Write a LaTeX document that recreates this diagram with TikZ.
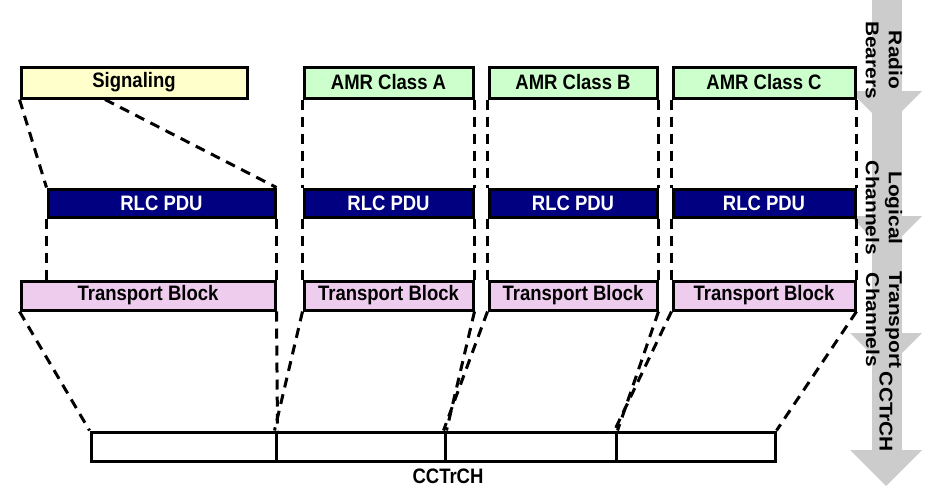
\documentclass[tikz,border=0pt]{standalone}
\usepackage{fontspec}
\setmainfont{Liberation Sans}
\usepackage{graphicx}
\usepackage{tikz}
\usetikzlibrary{shapes.geometric}

\definecolor{sigyellow}{RGB}{255,255,204}
\definecolor{amrgreen}{RGB}{204,255,204}
\definecolor{rlcblue}{RGB}{0,0,128}
\definecolor{tbpink}{RGB}{238,204,238}
\definecolor{bandgray}{RGB}{204,204,204}
\newcommand{\tallt}[1]{\scalebox{1}[1.13]{#1}}

\begin{document}
\begin{tikzpicture}[x=1pt, y=-1pt]
      \tikzstyle{box} = [rectangle, draw=black, line width=3pt, inner sep=0pt, minimum height=29pt, text centered, font=\fontsize{18.5}{22}\selectfont\bfseries]
      \tikzstyle{sigbox} = [box, fill=sigyellow, minimum height=31pt]
      \tikzstyle{amrbox} = [box, fill=amrgreen, minimum height=31pt]
      \tikzstyle{rlcbox} = [box, fill=rlcblue, text=white, minimum height=28pt]
      \tikzstyle{tbbox} = [box, fill=tbpink]
      \tikzstyle{segbox} = [box, fill=white]
      \tikzstyle{dline} = [line width=3pt, dash pattern=on 10pt off 7pt]
      \tikzstyle{sidelabel} = [rotate=-90, xscale=1.13, transform shape, align=center, font=\fontsize{18.5}{23}\selectfont\bfseries]

      \useasboundingbox (0,0) rectangle (936,501);

      % layer arrows on the right
      \fill [bandgray] (872,0) rectangle (902,450);
      \fill [bandgray] (850,91) -- (922,91) -- (886,127) -- cycle;
      \fill [bandgray] (850,216) -- (922,216) -- (886,252) -- cycle;
      \fill [bandgray] (850,333) -- (922,333) -- (886,369) -- cycle;
      \fill [bandgray] (850,450) -- (922,450) -- (886,486) -- cycle;
      \node (radio) [sidelabel] at (884,60) {Radio\\Bearers};
      \node (logical) [sidelabel] at (884,208) {Logical\\Channels};
      \node (transport) [sidelabel] at (884,320) {Transport\\Channels};
      \node (cctrchside) [sidelabel] at (886,412) {CCTrCH};

      % radio bearers
      \node (sig) [sigbox, minimum width=226pt] at (134,82.5) {\tallt{Signaling}};
      \node (amra) [amrbox, minimum width=169pt] at (388.5,82.5) {\tallt{AMR Class A}};
      \node (amrb) [amrbox, minimum width=168pt] at (573,82.5) {\tallt{AMR Class B}};
      \node (amrc) [amrbox, minimum width=182pt] at (764,82.5) {\tallt{AMR Class C}};

      % logical channels
      \node (rlcs) [rlcbox, minimum width=227pt] at (161.5,203) {\tallt{RLC PDU}};
      \node (rlca) [rlcbox, minimum width=169pt] at (388.5,203) {\tallt{RLC PDU}};
      \node (rlcb) [rlcbox, minimum width=168pt] at (573,203) {\tallt{RLC PDU}};
      \node (rlcc) [rlcbox, minimum width=182pt] at (764,203) {\tallt{RLC PDU}};

      % transport channels
      \node (tbs) [tbbox, minimum width=254pt] at (148,295.5) {\tallt{Transport Block}};
      \node (tba) [tbbox, minimum width=169pt] at (388.5,295.5) {\tallt{Transport Block}};
      \node (tbb) [tbbox, minimum width=168pt] at (573,295.5) {\tallt{Transport Block}};
      \node (tbc) [tbbox, minimum width=182pt] at (764,295.5) {\tallt{Transport Block}};

      % cctrch
      \node (seg1) [segbox, minimum width=185pt] at (183.5,446.5) {};
      \node (seg2) [segbox, minimum width=169pt] at (360.5,446.5) {};
      \node (seg3) [segbox, minimum width=171pt] at (530.5,446.5) {};
      \node (seg4) [segbox, minimum width=159pt] at (695.5,446.5) {};
      \node (cctrch) [font=\fontsize{18.5}{22}\selectfont\bfseries] at (448,476) {\tallt{CCTrCH}};

      \draw [dline] (sig.south west) -- (rlcs.north west);
      \draw [dline] ([xshift=-29pt]sig.south) -- (rlcs.north east);
      \draw [dline] (amra.south west) -- (rlca.north west);
      \draw [dline] (amra.south east) -- (rlca.north east);
      \draw [dline] (amrb.south west) -- (rlcb.north west);
      \draw [dline] (amrb.south east) -- (rlcb.north east);
      \draw [dline] (amrc.south west) -- (rlcc.north west);
      \draw [dline] (amrc.south east) -- (rlcc.north east);

      \draw [dline] (rlcs.south west) -- (rlcs.south west |- tbs.north);
      \draw [dline] (rlcs.south east) -- (tbs.north east);
      \draw [dline] (rlca.south west) -- (tba.north west);
      \draw [dline] (rlca.south east) -- (tba.north east);
      \draw [dline] (rlcb.south west) -- (tbb.north west);
      \draw [dline] (rlcb.south east) -- (tbb.north east);
      \draw [dline] (rlcc.south west) -- (tbc.north west);
      \draw [dline] (rlcc.south east) -- (tbc.north east);

      \draw [dline] (tbs.south west) -- (seg1.north west);
      \draw [dline] (tbs.south east) -- (seg1.north east);
      \draw [dline] (tba.south west) -- (seg2.north west);
      \draw [dline] (tba.south east) -- (seg2.north east);
      \draw [dline] (tbb.south west) -- (seg3.north west);
      \draw [dline] (tbb.south east) -- (seg3.north east);
      \draw [dline] (tbc.south west) -- (seg4.north west);
      \draw [dline] (tbc.south east) -- (seg4.north east);

\end{tikzpicture}
\end{document}
